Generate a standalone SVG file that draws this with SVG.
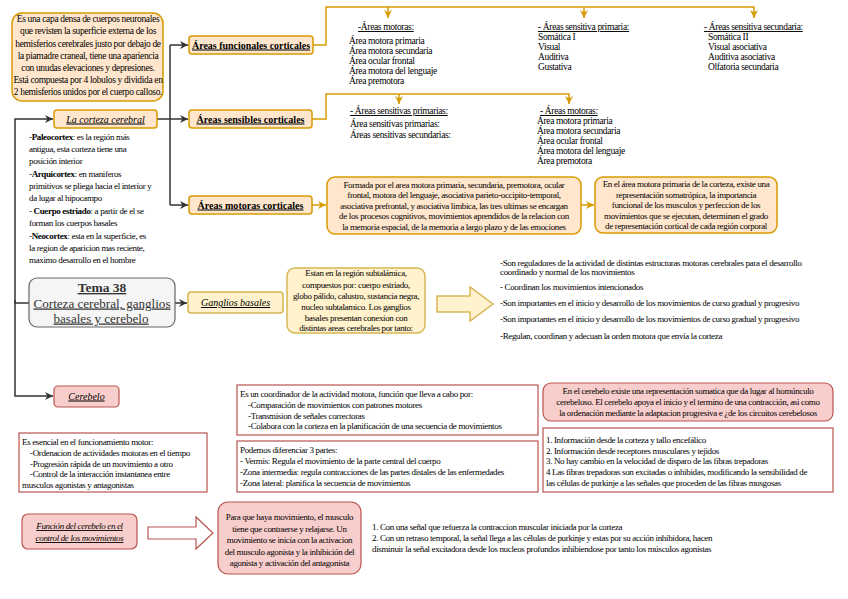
<svg xmlns="http://www.w3.org/2000/svg" width="848" height="599" viewBox="0 0 848 599">
<defs>
<style>
.f{font-family:"Liberation Serif","Times New Roman",serif;fill:#000}
.s9{font-size:9px;letter-spacing:-0.35px}
.s95{font-size:9.5px;letter-spacing:-0.35px}
.m{text-anchor:middle}
.u{text-decoration:underline}
.b{font-weight:bold}
.i{font-style:italic}
.bo{fill:#ffe6cc;stroke:#d79b00;stroke-width:1.5}
.by{fill:#fff2cc;stroke:#d6b656;stroke-width:1.5}
.bp{fill:#f8cecc;stroke:#b85450;stroke-width:1.2}
.bw{fill:#fff;stroke:#b85450;stroke-width:1.2}
.bg{fill:#f5f5f5;stroke:#666;stroke-width:1.2}
.co{fill:none;stroke:#d79b00;stroke-width:1.5}
.ck{fill:none;stroke:#333;stroke-width:1.5}
</style>
<marker id="ao" viewBox="0 0 10 10" refX="10" refY="5" markerWidth="8" markerHeight="8" markerUnits="userSpaceOnUse" orient="auto"><path d="M0,0 L10,5 L0,10 L3,5 z" fill="#d79b00"/></marker>
<marker id="ak" viewBox="0 0 10 10" refX="10" refY="5" markerWidth="8" markerHeight="8" markerUnits="userSpaceOnUse" orient="auto"><path d="M0,0 L10,5 L0,10 L3,5 z" fill="#333"/></marker>
</defs>
<rect width="848" height="599" fill="#fff"/>

<g id="connectors">
<path class="co" d="M313,45 H326 V7 H754 V18" marker-end="url(#ao)"/>
<path class="co" d="M388,7 V18" marker-end="url(#ao)"/>
<path class="co" d="M584,7 V18" marker-end="url(#ao)"/>
<path class="co" d="M312,119 H326 V94 H569 V104" marker-end="url(#ao)"/>
<path class="co" d="M399,94 V104" marker-end="url(#ao)"/>
<path class="co" d="M312,205 H326" marker-end="url(#ao)"/>
<path class="co" d="M581,205 H594" marker-end="url(#ao)"/>
<path class="ck" d="M170,45 V205"/>
<path class="ck" d="M170,45 H188" marker-end="url(#ak)"/>
<path class="ck" d="M157,119 H188" marker-end="url(#ak)"/>
<path class="ck" d="M170,205 H188" marker-end="url(#ak)"/>
<path class="ck" d="M29,303 H15 V119 H53" marker-end="url(#ak)"/>
<path class="ck" d="M15,300 V396 H53" marker-end="url(#ak)"/>
<path class="ck" d="M175,303 H187" marker-end="url(#ak)"/>
<polygon points="437,296 470,296 470,287 493,304 470,321 470,312 437,312" fill="#fff2cc" stroke="#d6b656" stroke-width="1.5"/>
<polygon points="148,527 196,527 196,517 213,533 196,549 196,539 148,539" fill="#fff" stroke="#b85450" stroke-width="1.2"/>
</g>

<g id="corteza-def">
<rect class="bo" x="12" y="13" width="151" height="88" rx="10"/>
<text class="f s95 m" x="88" y="22">Es una capa densa de cuerpos neuronales</text>
<text class="f s95 m" x="88" y="34">que revisten la superficie externa de los</text>
<text class="f s95 m" x="88" y="46.5">hemisferios cerebrales justo por debajo de</text>
<text class="f s95 m" x="88" y="58.5">la piamadre craneal, tiene una apariencia</text>
<text class="f s95 m" x="88" y="71">con unudas elevaciones y depresiones.</text>
<text class="f s95 m" x="88" y="83">Está compuesta por 4 lobulos y dividida en</text>
<text class="f s95 m" x="88" y="95">2 hemisferios unidos por el cuerpo calloso.</text>
</g>

<g id="areas-funcionales">
<rect class="bo" x="189" y="36" width="124" height="18" rx="3"/>
<text class="f b u m" x="251" y="48.5" font-size="10" textLength="118" lengthAdjust="spacingAndGlyphs">Áreas funcionales corticales</text>
</g>

<g id="areas-motoras-top">
<text class="f s95 u" x="358" y="30">-Áreas motoras:</text>
<text class="f s95" x="349" y="44">Área motora primaria</text>
<text class="f s95" x="349" y="54">Área motora secundaria</text>
<text class="f s95" x="349" y="64">Área ocular frontal</text>
<text class="f s95" x="349" y="74">Área motora del lenguaje</text>
<text class="f s95" x="349" y="84">Área premotora</text>
</g>

<g id="sensitiva-primaria">
<text class="f s95 u" x="538" y="30">- Áreas sensitiva primaria:</text>
<text class="f s95" x="538" y="40">Somática I</text>
<text class="f s95" x="538" y="50">Visual</text>
<text class="f s95" x="538" y="60">Auditiva</text>
<text class="f s95" x="538" y="70">Gustativa</text>
</g>

<g id="sensitiva-secundaria">
<text class="f s95 u" x="704" y="30">- Áreas sensitiva secundaria:</text>
<text class="f s95" x="708" y="40">Somática II</text>
<text class="f s95" x="708" y="50">Visual asociativa</text>
<text class="f s95" x="708" y="60">Auditiva asociativa</text>
<text class="f s95" x="708" y="70">Olfatoria secundaria</text>
</g>

<g id="la-corteza">
<rect class="bo" x="54" y="110" width="103" height="18" rx="3"/>
<text class="f i u m" x="105.5" y="122.5" font-size="10">La corteza cerebral</text>
</g>

<g id="corteza-tipos">
<text class="f s9" x="29" y="140">-<tspan class="b">Paleocortex</tspan>: es la región más</text>
<text class="f s9" x="29" y="152">antigua, esta corteza tiene una</text>
<text class="f s9" x="29" y="164">posición interior</text>
<text class="f s9" x="29" y="177">-<tspan class="b">Arquicortex</tspan>: en maniferos</text>
<text class="f s9" x="29" y="189">primitivos se pliega hacia el interior y</text>
<text class="f s9" x="29" y="201">da lugar al hipocampo</text>
<text class="f s9" x="29" y="214">- <tspan class="b">Cuerpo estriado</tspan>: a partir de el se</text>
<text class="f s9" x="29" y="226">forman los cuerpos basales</text>
<text class="f s9" x="29" y="239">-<tspan class="b">Neocortex</tspan>: esta en la superficie, es</text>
<text class="f s9" x="29" y="251">la region de aparicion mas reciente,</text>
<text class="f s9" x="29" y="263">maximo desarrollo en el hombre</text>
</g>

<g id="areas-sensibles">
<rect class="bo" x="189" y="110" width="123" height="18" rx="3"/>
<text class="f b u m" x="250.5" y="122.5" font-size="10" textLength="108" lengthAdjust="spacingAndGlyphs">Áreas sensibles corticales</text>
</g>

<g id="sensitivas-primarias">
<text class="f s95 u" x="350" y="114">- Áreas sensitivas primarias:</text>
<text class="f s95" x="350" y="127">Área sensitivas primarias:</text>
<text class="f s95" x="350" y="138">Áreas sensitivas secundarias:</text>
</g>

<g id="areas-motoras-2">
<text class="f s95 u" x="540" y="114">- Áreas motoras:</text>
<text class="f s95" x="537" y="124">Área motora primaria</text>
<text class="f s95" x="537" y="134">Área motora secundaria</text>
<text class="f s95" x="537" y="144">Área ocular frontal</text>
<text class="f s95" x="537" y="154">Área motora del lenguaje</text>
<text class="f s95" x="537" y="164">Área premotora</text>
</g>

<g id="areas-motoras">
<rect class="bo" x="189" y="196" width="123" height="18" rx="3"/>
<text class="f b u m" x="250.5" y="208.5" font-size="10" textLength="106" lengthAdjust="spacingAndGlyphs">Áreas motoras corticales</text>
</g>

<g id="formada">
<rect class="bo" x="327" y="177" width="254" height="57" rx="8"/>
<text class="f s9 m" x="454" y="187.5">Formada por el area motora primaria, secundaria, premotora, ocular</text>
<text class="f s9 m" x="454" y="198">frontal, motora del lenguaje, asociativa parieto-occipito-temporal,</text>
<text class="f s9 m" x="454" y="208.5">asociativa prefrontal, y asociativa limbica, las tres ultimas se encargan</text>
<text class="f s9 m" x="454" y="219">de los procesos cognitivos, movimientos aprendidos de la relacion con</text>
<text class="f s9 m" x="454" y="229.5">la memoria espacial, de la memoria a largo plazo y de las emociones</text>
</g>

<g id="somatotopica">
<rect class="bo" x="595" y="177" width="182" height="56" rx="8"/>
<text class="f s9 m" x="686" y="187">En el área motora primaria de la corteza, existe una</text>
<text class="f s9 m" x="686" y="197.5">representación somatrópica, la importancia</text>
<text class="f s9 m" x="686" y="208">funcional de los musculos y perfeccion de los</text>
<text class="f s9 m" x="686" y="218.5">movimientos que se ejecutan, determinan el grado</text>
<text class="f s9 m" x="686" y="229">de representación cortical de cada región corporal</text>
</g>

<g id="tema">
<rect class="bg" x="29" y="278" width="146" height="49" rx="8"/>
<text class="f b u m" x="102" y="292" font-size="13.5" fill="#333" style="fill:#333">Tema 38</text>
<text class="f u m" x="102" y="307.5" font-size="12.5" style="fill:#333" textLength="137" lengthAdjust="spacingAndGlyphs">Corteza cerebral, ganglios</text>
<text class="f u m" x="101" y="322.5" font-size="12.5" style="fill:#333" textLength="95" lengthAdjust="spacingAndGlyphs">basales y cerebelo</text>
</g>

<g id="ganglios">
<rect class="by" x="188" y="292" width="95" height="21" rx="3"/>
<text class="f i u m" x="235.5" y="306" font-size="10">Ganglios basales</text>
</g>

<g id="ganglios-def">
<rect class="by" x="287" y="268" width="138" height="65" rx="8"/>
<text class="f s9 m" x="356" y="276">Estan en la región subtalámica,</text>
<text class="f s9 m" x="356" y="287.5">compuestos por: cuerpo estriado,</text>
<text class="f s9 m" x="356" y="299">globo pálido, calustro, sustancia negra,</text>
<text class="f s9 m" x="356" y="310">nucleo subtalamico. Los ganglios</text>
<text class="f s9 m" x="356" y="320.5">basales presentan conexion con</text>
<text class="f s9 m" x="356" y="331">distintas areas cerebrales por tanto:</text>
</g>

<g id="ganglios-funciones">
<text class="f s9" x="500" y="266">-Son reguladores de la actividad de distintas estructuras motoras cerebrales para el desarrollo</text>
<text class="f s9" x="500" y="275">coordinado y normal de los movimientos</text>
<text class="f s9" x="500" y="290">- Coordinan los movimientos intencionados</text>
<text class="f s9" x="500" y="306">-Son importantes en el inicio y desarrollo de los movimientos de curso gradual y progresivo</text>
<text class="f s9" x="500" y="322">-Son importantes en el inicio y desarrollo de los movimientos de curso gradual y progresivo</text>
<text class="f s9" x="500" y="339">-Regulan, coordinan y adecuan la orden motora que envía la corteza</text>
</g>

<g id="cerebelo">
<rect class="bp" x="54" y="386" width="65" height="21" rx="4"/>
<text class="f i u m" x="86.5" y="399.5" font-size="10">Cerebelo</text>
</g>

<g id="esencial">
<rect class="bw" x="19" y="433" width="188" height="59"/>
<text class="f s9" x="22" y="445">Es esencial en el funcionamiento motor:</text>
<text class="f s9" x="30" y="456">-Ordenacion de actividades motoras en el tiempo</text>
<text class="f s9" x="30" y="466.5">-Progresión rápida de un movimiento a otro</text>
<text class="f s9" x="30" y="477">-Control de la interacción instantanea entre</text>
<text class="f s9" x="22" y="487.5">musculos agonistas y antagonistas</text>
</g>

<g id="coordinador">
<rect class="bw" x="237" y="385" width="301" height="50"/>
<text class="f s9" x="240" y="397">Es un coordinador de la actividad motora, función que lleva a cabo por:</text>
<text class="f s9" x="248" y="408">-Comparación de movimientos con patrones motores</text>
<text class="f s9" x="248" y="418.5">-Transmision de señales correctoras</text>
<text class="f s9" x="248" y="429">-Colabora con la corteza en la planificación de una secuencia de movimientos</text>
</g>

<g id="partes">
<rect class="bw" x="237" y="441" width="301" height="51"/>
<text class="f s9" x="240" y="453">Podemos diferenciar 3 partes:</text>
<text class="f s9" x="240" y="464">- Vermis: Regula el movimiento de la parte central del cuerpo</text>
<text class="f s9" x="240" y="475">-Zona intermedia: regula contracciones de las partes distales de las enfermedades</text>
<text class="f s9" x="240" y="486">-Zona lateral: planifica la secuencia de movimientos</text>
</g>

<g id="homunculo">
<rect class="bp" x="543" y="383" width="290" height="38" rx="8"/>
<text class="f s9 m" x="688" y="394">En el cerebelo existe una representación somatica que da lugar al homúnculo</text>
<text class="f s9 m" x="688" y="405">cerebeloso. El cerebelo apoya el inicio y el termino de una contracción, asi como</text>
<text class="f s9 m" x="688" y="416">la ordenación mediante la adaptacion progresiva e ¿de los circuitos cerebelosos</text>
</g>

<g id="informacion">
<rect class="bw" x="543" y="428" width="290" height="64"/>
<text class="f s9" x="546" y="443">1. Información desde la corteza y tallo encefálico</text>
<text class="f s9" x="546" y="453.5">2. Información desde receptores musculares y tejidos</text>
<text class="f s9" x="546" y="464">3. No hay cambio en la velocidad de disparo de las fibras trepadoras</text>
<text class="f s9" x="546" y="475">4 Las fibras trepadoras son excitadas o inhibidas, modificando la sensibilidad de</text>
<text class="f s9" x="546" y="485.5">las células de purkinje  a las señales que proceden de las fibras musgosas</text>
</g>

<g id="funcion-cerebelo">
<rect class="bp" x="22" y="514" width="115" height="35" rx="6"/>
<text class="f s9 i u m" x="79.5" y="529">Función del cerebelo en el</text>
<text class="f s9 i u m" x="79.5" y="541">control de los movimientos</text>
</g>

<g id="movimiento">
<rect class="bp" x="218" y="502" width="143" height="72" rx="10"/>
<text class="f s9 m" x="289.5" y="520">Para que haya movimiento, el musculo</text>
<text class="f s9 m" x="289.5" y="531.5">tiene que contraerse y relajarse. Un</text>
<text class="f s9 m" x="289.5" y="543">movimiento se inicia con la activacion</text>
<text class="f s9 m" x="289.5" y="554.5">del musculo agonista y la inhibición del</text>
<text class="f s9 m" x="289.5" y="566">agonista y activación del antagonista</text>
</g>

<g id="senales">
<text class="f s9" x="372" y="530">1. Con una señal que refuerza la contraccion muscular iniciada por la corteza</text>
<text class="f s9" x="372" y="541">2. Con un retraso temporal, la señal llega a las células de purkinje y estas por su acción inhibidora, hacen</text>
<text class="f s9" x="372" y="552">disminuir la señal excitadora desde los nucleos profundos inhibiendose por tanto los músculos agonistas</text>
</g>
</svg>
